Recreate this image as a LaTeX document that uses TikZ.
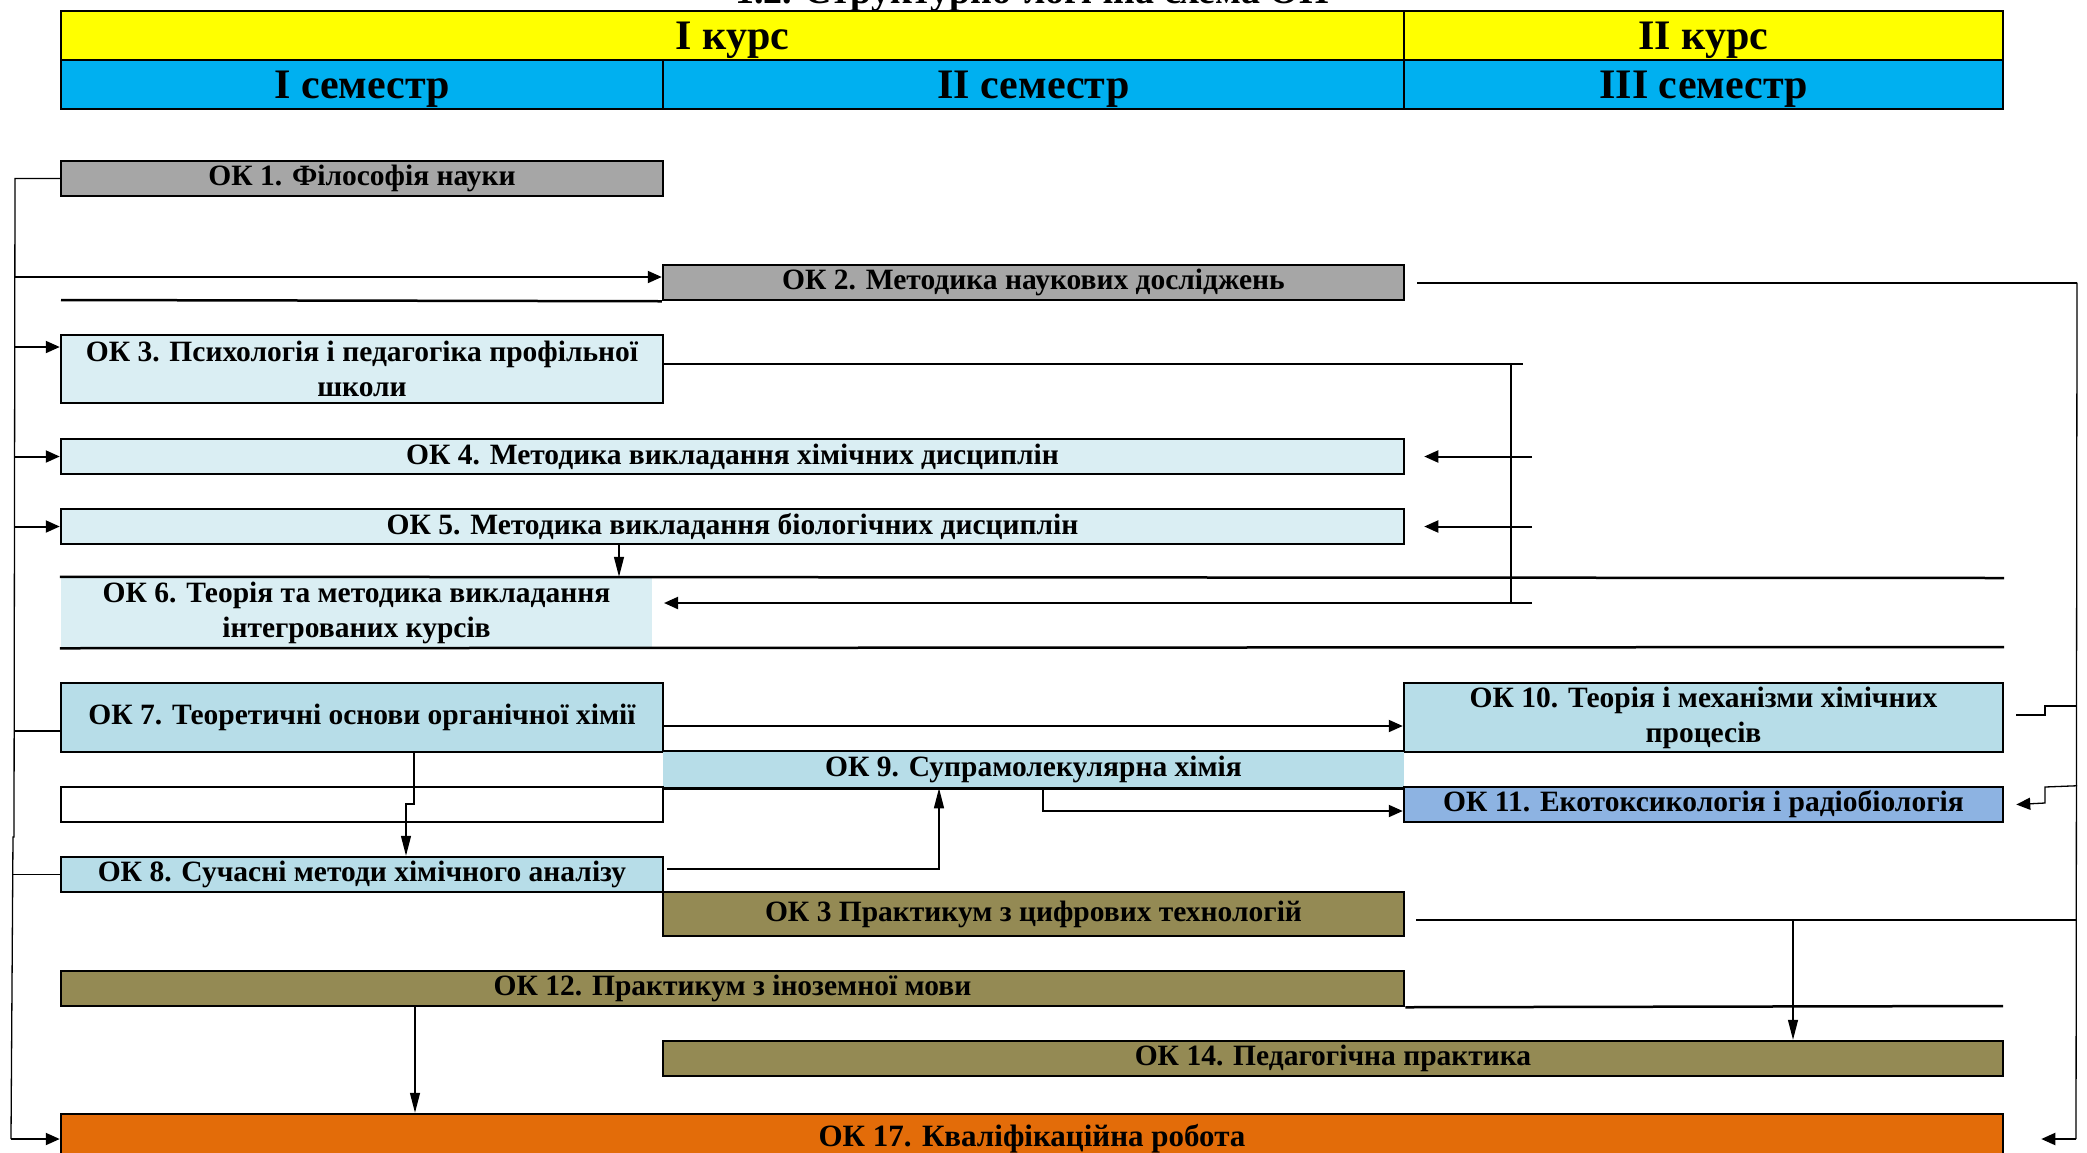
\documentclass[tikz,border=0pt]{standalone}
\usepackage{fontspec}
\setmainfont{Liberation Serif}
\usetikzlibrary{arrows.meta}
\definecolor{hdryellow}{HTML}{FFFF00}
\definecolor{hdrblue}{HTML}{00B0F0}
\definecolor{boxgray}{HTML}{A6A6A6}
\definecolor{boxpale}{HTML}{DAEEF3}
\definecolor{boxaqua}{HTML}{B7DDE8}
\definecolor{boxsky}{HTML}{8DB3E2}
\definecolor{boxolive}{HTML}{948A54}
\definecolor{boxorange}{HTML}{E36C09}
\begin{document}
\begin{tikzpicture}[x=1pt,y=-1pt,
    okbox/.style={draw, line width=2.5pt, inner sep=0pt, align=center,
        minimum height=35pt, font=\fontsize{29.5}{35}\selectfont\bfseries},
    hdr/.style={okbox, minimum height=49pt, text depth=0pt, font=\fontsize{42}{44}\selectfont\bfseries},
    conn/.style={line width=2pt},
    thinconn/.style={line width=1.3pt},
    arr/.style={conn, -{Triangle[length=14pt,width=12pt]}},
    darr/.style={thinconn, -{Triangle[length=20pt,width=10pt]}},
    boxedge/.style={line width=2.5pt}]
    \useasboundingbox (0,0) rectangle (2087,1152);
    %% title and header
    \node[anchor=base, font=\fontsize{38}{40}\selectfont\bfseries] (title) at (1032,3) {1.2. Структурно-логічна схема ОП};
    \node[hdr, fill=hdryellow, minimum width=1343pt] (k1) at (732.5,35.5) {I курс};
    \node[hdr, fill=hdryellow, minimum width=599pt] (k2) at (1703.5,35.5) {II курс};
    \node[hdr, fill=hdrblue, minimum width=602pt] (s1) at (362,84.5) {I семестр};
    \node[hdr, fill=hdrblue, minimum width=741pt] (s2) at (1033.5,84.5) {II семестр};
    \node[hdr, fill=hdrblue, minimum width=599pt] (s3) at (1703.5,84.5) {III семестр};
    %% components
    \node[okbox, fill=boxgray, minimum width=602pt] (ok1) at (362,178.5) {ОК 1. Філософія науки};
    \node[okbox, fill=boxgray, minimum width=741pt] (ok2) at (1033.5,282.5) {ОК 2. Методика наукових досліджень};
    \node[okbox, fill=boxpale, minimum width=602pt, minimum height=68pt] (ok3) at (362,369) {ОК 3. Психологія і педагогіка профільної\\школи};
    \node[okbox, fill=boxpale, minimum width=1343pt] (ok4) at (732.5,456.5) {ОК 4. Методика викладання хімічних дисциплін};
    \node[okbox, fill=boxpale, minimum width=1343pt] (ok5) at (732.5,526.5) {ОК 5. Методика викладання біологічних дисциплін};
    \node[okbox, draw=none, fill=boxpale, minimum width=591pt, minimum height=69pt] (ok6) at (356.5,612.5) {ОК 6. Теорія та методика викладання\\інтегрованих курсів};
    \node[okbox, fill=boxaqua, minimum width=602pt, minimum height=69pt] (ok7) at (362,717.5) {ОК 7. Теоретичні основи органічної хімії};
    \node[okbox, fill=boxaqua, minimum width=599pt, minimum height=69pt] (ok10) at (1703.5,717.5) {ОК 10. Теорія і механізми хімічних\\процесів};
    \node[okbox, draw=none, fill=boxaqua, minimum width=741pt] (ok9) at (1033.5,769.5) {ОК 9. Супрамолекулярна хімія};
    \node[okbox, minimum width=602pt] (blank) at (362,804.5) {};
    \node[okbox, fill=boxsky, minimum width=599pt] (ok11) at (1703.5,804.5) {ОК 11. Екотоксикологія і радіобіологія};
    \node[okbox, fill=boxaqua, minimum width=602pt] (ok8) at (362,874.5) {ОК 8. Сучасні методи хімічного аналізу};
    \node[okbox, fill=boxolive, minimum width=741pt, minimum height=44pt] (okp3) at (1033.5,914) {ОК 3 Практикум з цифрових технологій};
    \node[okbox, fill=boxolive, minimum width=1343pt] (ok12) at (732.5,988.5) {ОК 12. Практикум з іноземної мови};
    \node[okbox, fill=boxolive, minimum width=1340pt] (ok14) at (1333,1058.5) {ОК 14. Педагогічна практика};
    \node[okbox, fill=boxorange, minimum width=1942pt, minimum height=50pt, font=\fontsize{31}{35}\selectfont\bfseries] (ok17) at (1032,1139) {ОК 17. Кваліфікаційна робота};
    %% open box edges
    \draw[boxedge] (61,300) -- (ok2.south west);
    \draw[boxedge] (ok6.north west) -- (2004,578);
    \draw[boxedge] (ok6.south west) -- (2004,647);
    \draw[boxedge] (ok9.north west) -- (ok9.north east);
    \draw[boxedge] (ok9.south west) -- (ok9.south east);
    \draw[boxedge] (ok12.south east) -- (2003,1006);
    %% left bus
    \coordinate (lbtop) at (15,178.5);
    \coordinate (lbmid) at (14,837);
    \coordinate (lbbot) at (11,1139);
    \draw[thinconn] (ok1.west) -- (lbtop) -- (lbmid) -- (13,837) -- (lbbot);
    \draw[arr] (lbbot) -- (ok17.west);
    \draw[arr] (lbtop |- 0,277) -- (ok2.west |- 0,277);
    \draw[arr] (lbtop |- 0,347) -- (ok3.west |- 0,347);
    \draw[arr] (lbtop |- ok4.west) -- (ok4.west);
    \draw[arr] (lbtop |- ok5.west) -- (ok5.west);
    \draw[thinconn] (lbtop |- 0,731) -- (ok7.west |- 0,731);
    \draw[thinconn] (13,874.5) -- (ok8.west);
    %% right bus
    \coordinate (rbtop) at (2077,282.5);
    \coordinate (rbbot) at (2076,1139);
    \draw[conn] ([xshift=12pt]ok2.east) -- (rbtop);
    \draw[thinconn] (rbtop) -- (rbbot);
    \draw[arr] (rbbot) -- ([xshift=37pt]ok17.east);
    \draw[thinconn] ([xshift=12pt]ok10.east |- 0,715) -- (2045,715) -- (2045,706) -- (rbtop |- 0,706);
    \draw[thinconn, -{Triangle[length=14pt,width=12pt]}] (rbtop |- ok11.north) -- (2045,787) -- (2045,803) -- ([xshift=12pt]ok11.east);
    \draw[conn] ([xshift=11pt]okp3.east |- 0,920) -- (rbtop |- 0,920);
    \draw[darr] (1793,920) -- (ok14.north -| 1793,0);
    %% OK 3 bracket
    \coordinate (brtop) at (1511,364);
    \draw[conn] (ok3.east |- brtop) -- (1523,364);
    \draw[thinconn] (brtop) -- (1511,603);
    \draw[arr] (1532,456.5) -- ([xshift=19pt]ok4.east);
    \draw[arr] (1532,526.5) -- ([xshift=19pt]ok5.east);
    \draw[arr] (1532,603) -- (664,603);
    %% links between components
    \draw[darr] (ok5.south -| 619,0) -- (ok6.north -| 619,0);
    \draw[arr] (ok7.east |- 0,726) -- (ok10.west |- 0,726);
    \draw[darr] (ok7.south -| 414,0) -- (414,804) -- (406,804) -- (ok8.north -| 406,0);
    \draw[darr] ([xshift=3pt]ok8.east |- 0,869) -- (939,869) -- (ok9.south -| 939,0);
    \draw[arr] (ok9.south -| 1043,0) -- (1043,811) -- (ok11.west |- 0,811);
    \draw[darr] (ok12.south -| 415,0) -- (ok17.north -| 415,0);
\end{tikzpicture}
\end{document}
